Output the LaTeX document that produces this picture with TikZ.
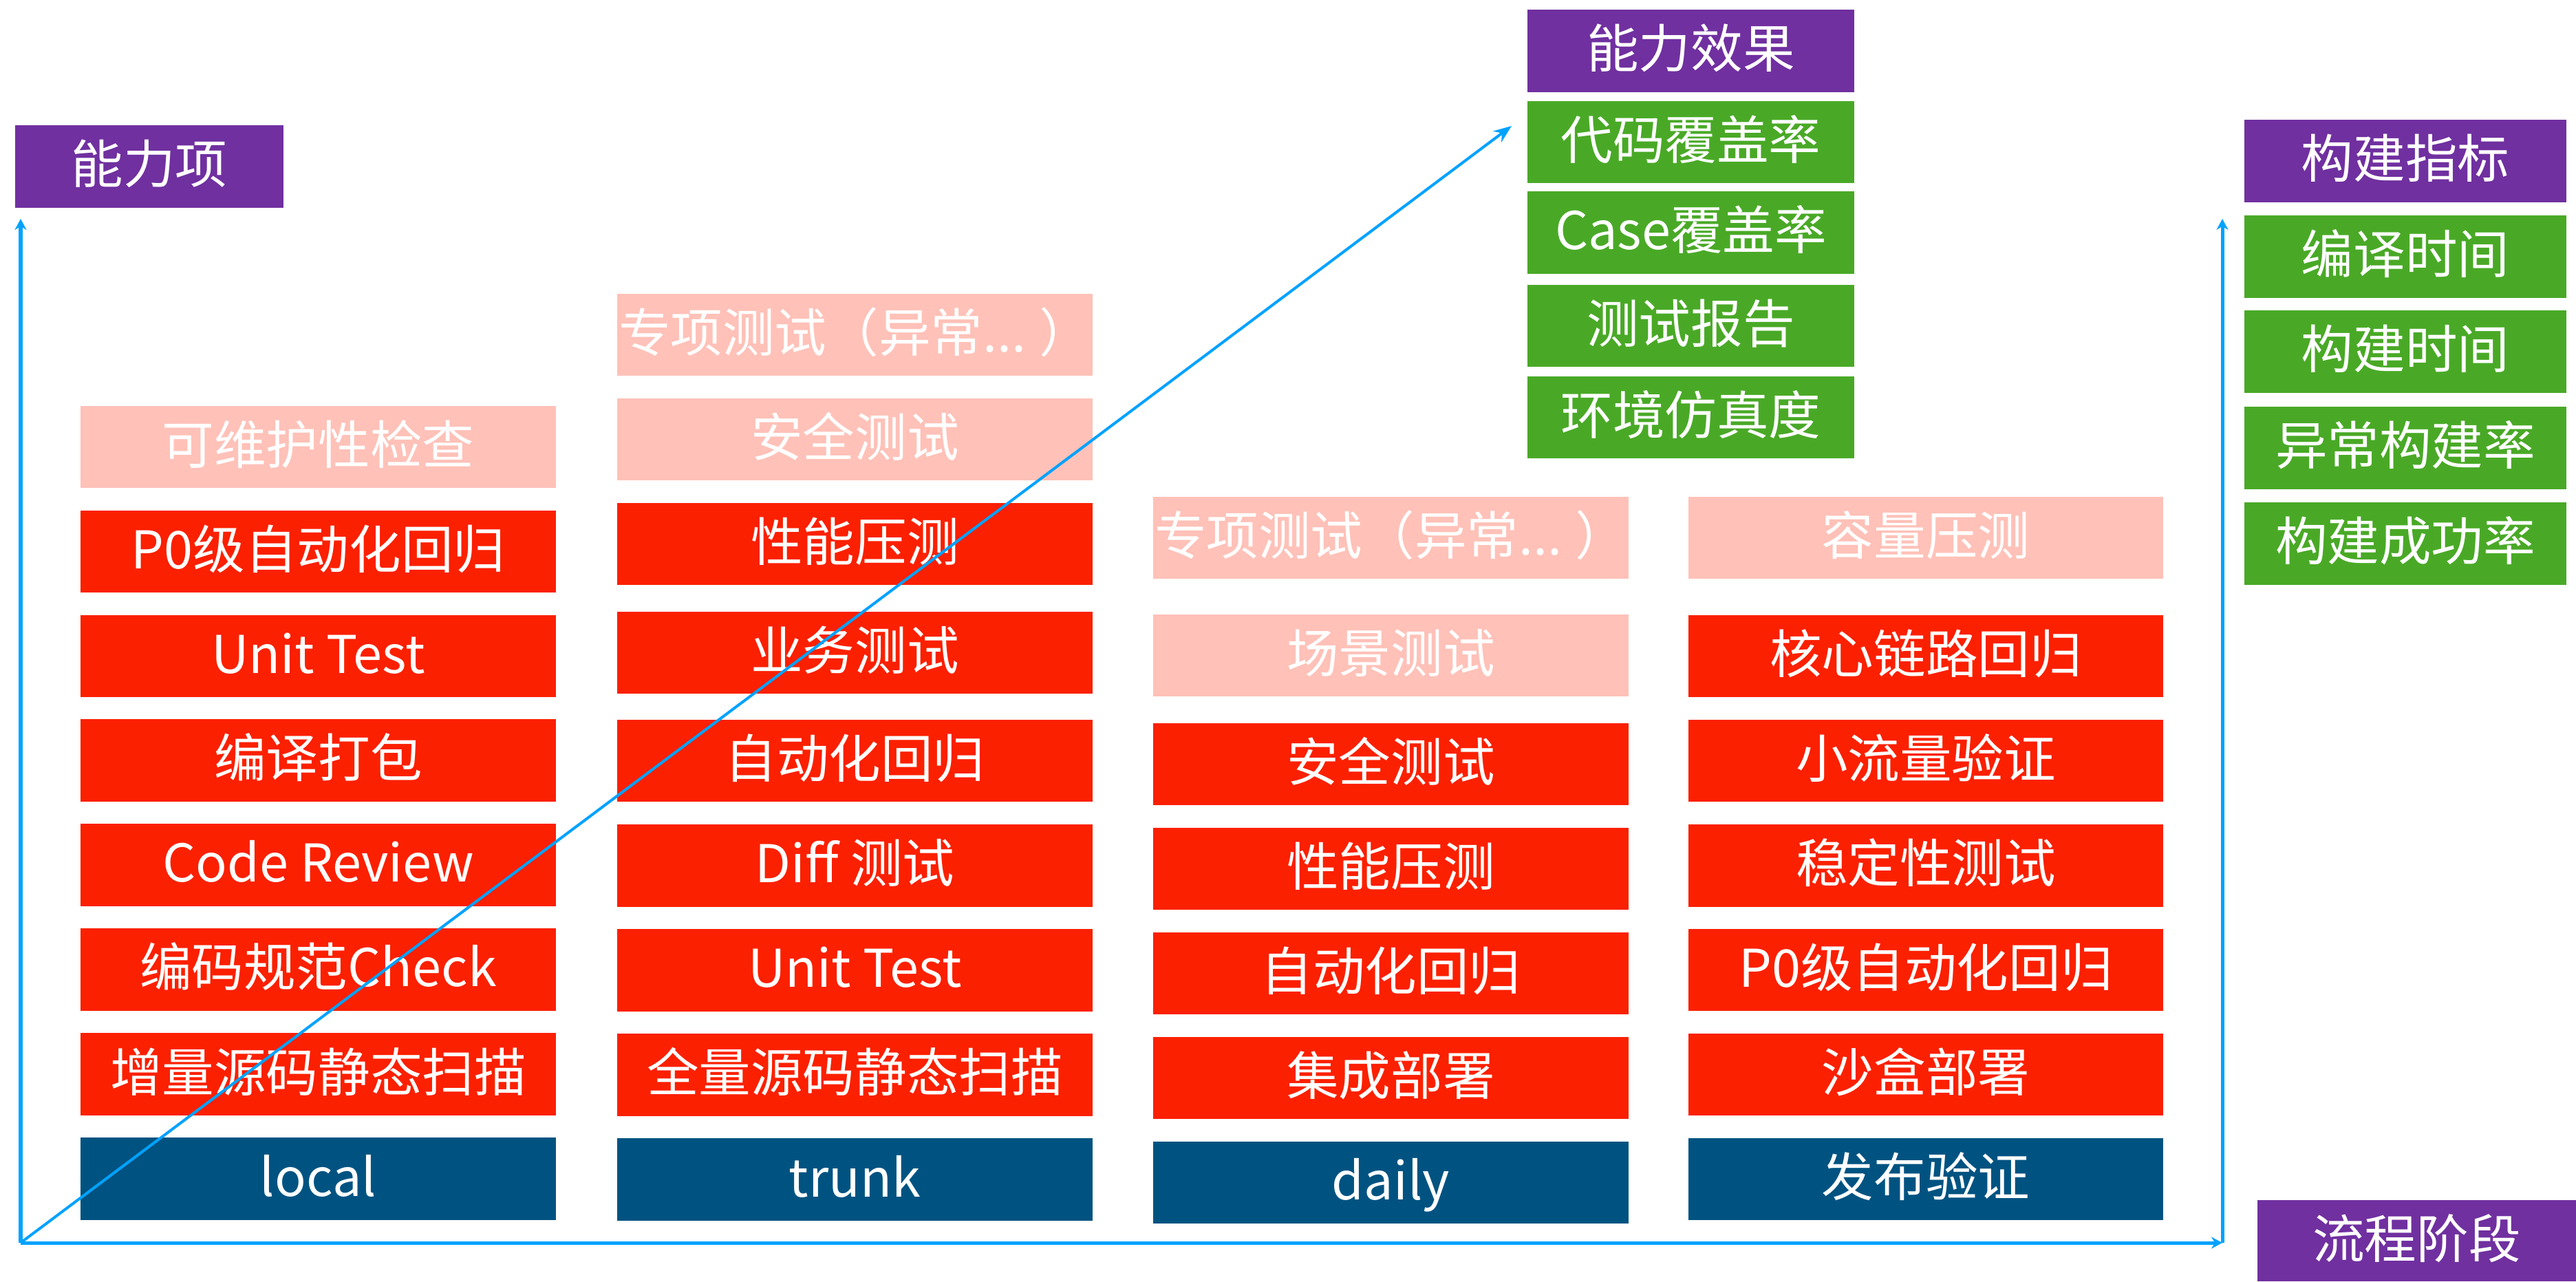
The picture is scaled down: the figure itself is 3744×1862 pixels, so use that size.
\documentclass[tikz,border=0pt]{standalone}
\usepackage{fontspec}
\setmainfont{Noto Sans CJK SC}
\usetikzlibrary{arrows.meta}
\definecolor{hpurple}{HTML}{7030A0}
\definecolor{hred}{HTML}{FB2000}
\definecolor{hpink}{HTML}{FFC1B8}
\definecolor{hgreen}{HTML}{49A926}
\definecolor{hnavy}{HTML}{005381}
\definecolor{hblue}{HTML}{00A2FF}
\begin{document}
\begin{tikzpicture}[x=0.01cm,y=-0.01cm,
  base/.style={rectangle, inner sep=0pt, text=white,
    font=\fontsize{21.5pt}{25pt}\selectfont, text height=1.42em, text depth=0em},
  cbox/.style={base, minimum width=6.9cm, minimum height=1.19cm},
  redbox/.style={cbox, fill=hred},
  pinkbox/.style={cbox, fill=hpink},
  navybox/.style={cbox, fill=hnavy},
  effbox/.style={base, minimum width=4.75cm, minimum height=1.19cm},
  metbox/.style={base, minimum width=4.68cm, minimum height=1.19cm},
  axis/.style={draw=hblue, line width=0.05cm, -{Stealth[length=0.16cm, width=0.17cm]}},
  diag/.style={draw=hblue, line width=0.04cm, -{Stealth[length=0.26cm, width=0.2cm]}}]
\useasboundingbox (0,0) rectangle (3744,1862);
\fill[white] (0,0) rectangle (3744,1862);

% headers
\node[base, fill=hpurple, minimum width=3.9cm, minimum height=1.2cm] (hcap) at (217,242) {能力项};
\node[effbox, fill=hpurple] (heff) at (2457.5,74) {能力效果};
\node[metbox, fill=hpurple] (hmet) at (3496,234) {构建指标};
\node[base, fill=hpurple, minimum width=4.63cm, minimum height=1.18cm] (hflow) at (3512.5,1803) {流程阶段};

% effects
\node[effbox, fill=hgreen] (e1) at (2457.5,206.5) {代码覆盖率};
\node[effbox, fill=hgreen] (e2) at (2457.5,338) {Case覆盖率};
\node[effbox, fill=hgreen] (e3) at (2457.5,473.5) {测试报告};
\node[effbox, fill=hgreen] (e4) at (2457.5,606.5) {环境仿真度};

% metrics
\node[metbox, fill=hgreen] (m1) at (3496,373) {编译时间};
\node[metbox, fill=hgreen] (m2) at (3496,511) {构建时间};
\node[metbox, fill=hgreen] (m3) at (3496,651) {异常构建率};
\node[metbox, fill=hgreen] (m4) at (3496,790) {构建成功率};

% column 1
\node[pinkbox] (a1) at (462.5,649.5) {可维护性检查};
\node[redbox] (a2) at (462.5,801.5) {P0级自动化回归};
\node[redbox] (a3) at (462.5,953.5) {Unit Test};
\node[redbox] (a4) at (462.5,1105) {编译打包};
\node[redbox] (a5) at (462.5,1257) {Code Review};
\node[redbox] (a6) at (462.5,1409) {编码规范Check};
\node[redbox] (a7) at (462.5,1561) {增量源码静态扫描};
\node[navybox] (a8) at (462.5,1713) {local};

% column 2
\node[pinkbox] (b1) at (1242.5,486.5) {专项测试（异常...\hspace{0.25em}）};
\node[pinkbox] (b2) at (1242.5,638.5) {安全测试};
\node[redbox] (b3) at (1242.5,790.5) {性能压测};
\node[redbox] (b4) at (1242.5,948.5) {业务测试};
\node[redbox] (b5) at (1242.5,1105.5) {自动化回归};
\node[redbox] (b6) at (1242.5,1258) {Diff 测试};
\node[redbox] (b7) at (1242.5,1410) {Unit Test};
\node[redbox] (b8) at (1242.5,1562) {全量源码静态扫描};
\node[navybox] (b9) at (1242.5,1714) {trunk};

% column 3
\node[pinkbox] (c1) at (2021.5,781.5) {专项测试（异常...\hspace{0.25em}）};
\node[pinkbox] (c2) at (2021.5,952.5) {场景测试};
\node[redbox] (c3) at (2021.5,1110.5) {安全测试};
\node[redbox] (c4) at (2021.5,1262.5) {性能压测};
\node[redbox] (c5) at (2021.5,1414.5) {自动化回归};
\node[redbox] (c6) at (2021.5,1566.5) {集成部署};
\node[navybox] (c7) at (2021.5,1718.5) {daily};

% column 4
\node[pinkbox] (d1) at (2799,781.5) {容量压测};
\node[redbox] (d2) at (2799,953.5) {核心链路回归};
\node[redbox] (d3) at (2799,1105.5) {小流量验证};
\node[redbox] (d4) at (2799,1258) {稳定性测试};
\node[redbox] (d5) at (2799,1409.5) {P0级自动化回归};
\node[redbox] (d6) at (2799,1561.5) {沙盒部署};
\node[navybox] (d7) at (2799,1713.5) {发布验证};

% axes
\coordinate (o) at (30,1806);
\coordinate (ytop) at (30,318);
\coordinate (xend) at (3230,1806);
\coordinate (rtop) at (3230,318);
\coordinate (dtip) at (2197,183);
\draw[axis] (o) -- (ytop);
\draw[axis] (o) -- (xend);
\draw[axis] (xend) -- (rtop);
\draw[diag] (o) -- (dtip);
\end{tikzpicture}
\end{document}
